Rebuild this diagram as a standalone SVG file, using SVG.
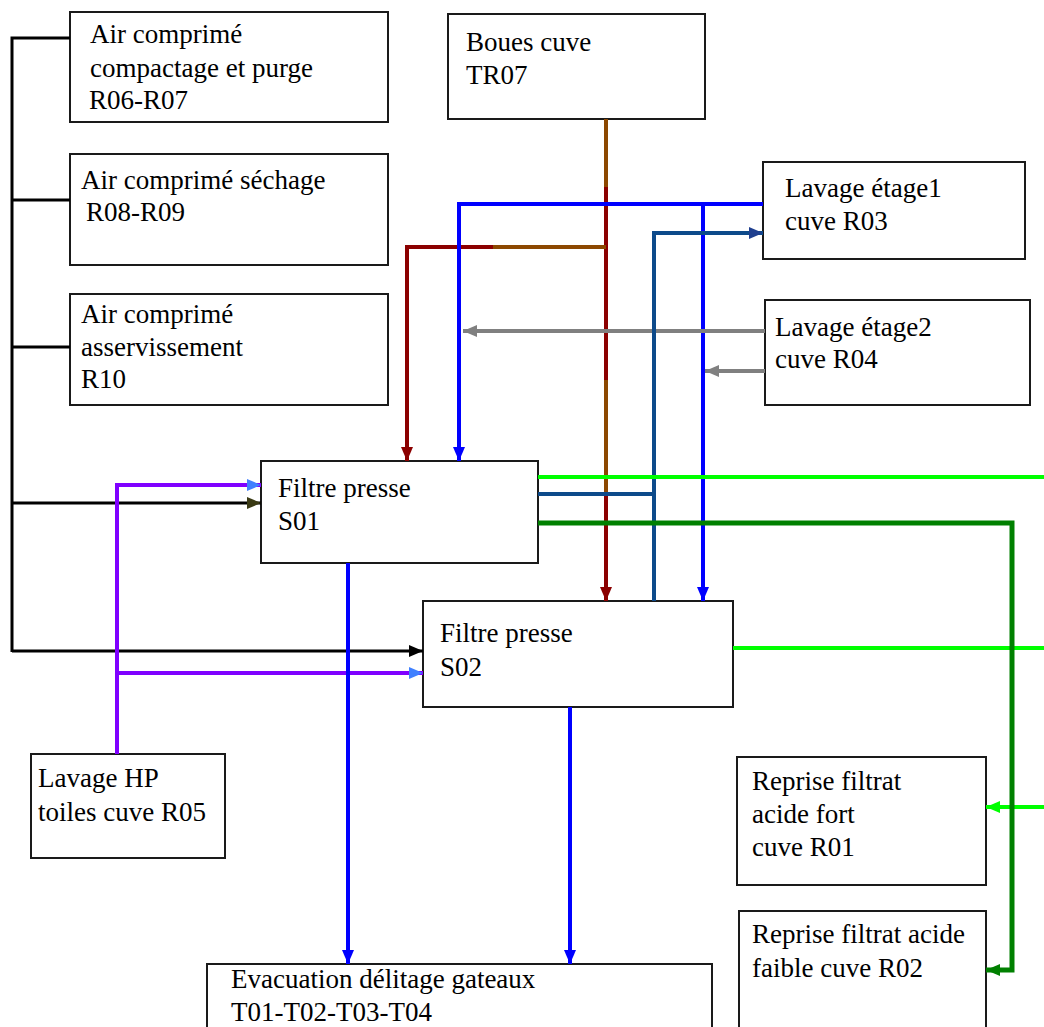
<svg xmlns="http://www.w3.org/2000/svg" width="1044" height="1027" viewBox="0 0 1044 1027">
<style>
.box{fill:#fff;stroke:#1a1a1a;stroke-width:2}
text{font-family:"Liberation Serif","Times New Roman",serif;font-size:27px;fill:#000}
.ln{fill:none;stroke-linecap:butt;stroke-linejoin:miter}
.blk{stroke:#000;stroke-width:3}
.blu{stroke:#0000ff;stroke-width:4}
.pur{stroke:#7f00ff;stroke-width:4}
.gry{stroke:#808080;stroke-width:4}
.dbl{stroke:#0d4a8a;stroke-width:4}
.brn{stroke:#8c4800;stroke-width:4}
.drd{stroke:#8b0000;stroke-width:4}
.lgr{stroke:#00ff00;stroke-width:4}
.dgr{stroke:#008000;stroke-width:5}
</style>
<defs>
<marker id="aBlk" markerUnits="userSpaceOnUse" markerWidth="14" markerHeight="12" refX="14" refY="6" orient="auto"><path d="M0,0 L14,6 L0,12 z" fill="#000"/></marker>
<marker id="aOlv" markerUnits="userSpaceOnUse" markerWidth="14" markerHeight="12" refX="14" refY="6" orient="auto"><path d="M0,0 L14,6 L0,12 z" fill="#3a3a14"/></marker>
<marker id="aLbl" markerUnits="userSpaceOnUse" markerWidth="14" markerHeight="12" refX="14" refY="6" orient="auto"><path d="M0,0 L14,6 L0,12 z" fill="#4080ff"/></marker>
<marker id="aBlu" markerUnits="userSpaceOnUse" markerWidth="14" markerHeight="12" refX="14" refY="6" orient="auto"><path d="M0,0 L14,6 L0,12 z" fill="#0000ff"/></marker>
<marker id="aGry" markerUnits="userSpaceOnUse" markerWidth="14" markerHeight="12" refX="14" refY="6" orient="auto"><path d="M0,0 L14,6 L0,12 z" fill="#808080"/></marker>
<marker id="aDbl" markerUnits="userSpaceOnUse" markerWidth="14" markerHeight="12" refX="14" refY="6" orient="auto"><path d="M0,0 L14,6 L0,12 z" fill="#1f3f8f"/></marker>
<marker id="aDrd" markerUnits="userSpaceOnUse" markerWidth="14" markerHeight="12" refX="14" refY="6" orient="auto"><path d="M0,0 L14,6 L0,12 z" fill="#8b0000"/></marker>
<marker id="aLgr" markerUnits="userSpaceOnUse" markerWidth="14" markerHeight="12" refX="14" refY="6" orient="auto"><path d="M0,0 L14,6 L0,12 z" fill="#00ff00"/></marker>
<marker id="aDgr" markerUnits="userSpaceOnUse" markerWidth="14" markerHeight="12" refX="14" refY="6" orient="auto"><path d="M0,0 L14,6 L0,12 z" fill="#008000"/></marker>
</defs>
<rect width="1044" height="1027" fill="#fff"/>

<g id="n-r06r07"><rect class="box" x="70" y="12" width="318" height="110"/>
<text x="90" y="43">Air comprimé</text><text x="90" y="77">compactage et purge</text><text x="89" y="109">R06-R07</text></g>
<g id="n-r08r09"><rect class="box" x="70" y="154" width="318" height="111"/>
<text x="81" y="189">Air comprimé séchage</text><text x="86" y="221">R08-R09</text></g>
<g id="n-r10"><rect class="box" x="70" y="294" width="318" height="111"/>
<text x="81" y="323">Air comprimé</text><text x="81" y="356">asservissement</text><text x="81" y="388">R10</text></g>
<g id="n-tr07"><rect class="box" x="448" y="14" width="257" height="105"/>
<text x="466" y="51">Boues cuve</text><text x="466" y="84">TR07</text></g>
<g id="n-r03"><rect class="box" x="763" y="162" width="262" height="97"/>
<text x="785" y="197">Lavage étage1</text><text x="785" y="230">cuve R03</text></g>
<g id="n-r04"><rect class="box" x="765" y="300" width="265" height="105"/>
<text x="775" y="336">Lavage étage2</text><text x="775" y="368">cuve R04</text></g>
<g id="n-s01"><rect class="box" x="261" y="461" width="277" height="102"/>
<text x="278" y="497">Filtre presse</text><text x="278" y="530">S01</text></g>
<g id="n-s02"><rect class="box" x="423" y="601" width="310" height="106"/>
<text x="440" y="642">Filtre presse</text><text x="440" y="676">S02</text></g>
<g id="n-r05"><rect class="box" x="31" y="754" width="194" height="104"/>
<text x="38" y="787">Lavage HP</text><text x="38" y="821">toiles cuve R05</text></g>
<g id="n-r01"><rect class="box" x="737" y="757" width="249" height="128"/>
<text x="752" y="790">Reprise filtrat</text><text x="752" y="823">acide fort</text><text x="752" y="856">cuve R01</text></g>
<g id="n-r02"><rect class="box" x="739" y="911" width="247" height="130"/>
<text x="752" y="943">Reprise filtrat acide</text><text x="752" y="977">faible cuve R02</text></g>
<g id="n-t01"><rect class="box" x="207" y="964" width="505" height="80"/>
<text x="231" y="988">Evacuation délitage gateaux</text><text x="231" y="1021">T01-T02-T03-T04</text></g>

<g id="connectors">
<!-- compressed air -->
<path class="ln blk" d="M70,38 H12 V652"/>
<path class="ln blk" d="M12,200 H70"/>
<path class="ln blk" d="M12,347 H70"/>
<path class="ln blk" d="M12,503 H261" marker-end="url(#aOlv)"/>
<path class="ln blk" d="M12,651 H423" marker-end="url(#aBlk)"/>
<!-- HP wash -->
<path class="ln pur" d="M117,754 V485 H261" marker-end="url(#aLbl)"/>
<path class="ln pur" d="M117,673 H423" marker-end="url(#aLbl)"/>
<!-- sludge TR07 -->
<path class="ln brn" d="M606,119 V187"/>
<path class="ln drd" d="M606,187 V380"/>
<path class="ln brn" d="M606,380 V494"/>
<path class="ln drd" d="M606,494 V601" marker-end="url(#aDrd)"/>
<path class="ln brn" d="M606,247 H493"/>
<path class="ln drd" d="M493,247 H407 V461" marker-end="url(#aDrd)"/>
<!-- R03 wash -->
<path class="ln blu" d="M763,204 H459 V461" marker-end="url(#aBlu)"/>
<path class="ln blu" d="M703,204 V601" marker-end="url(#aBlu)"/>
<!-- R04 wash -->
<path class="ln gry" d="M765,331 H463" marker-end="url(#aGry)"/>
<path class="ln gry" d="M765,371 H705" marker-end="url(#aGry)"/>
<!-- return to R03 -->
<path class="ln dbl" d="M538,494 H654"/>
<path class="ln dbl" d="M654,601 V233 H763" marker-end="url(#aDbl)"/>
<!-- filtrate -->
<path class="ln lgr" d="M538,477 H1044"/>
<path class="ln lgr" d="M733,648 H1044"/>
<path class="ln lgr" d="M1044,807 H986" marker-end="url(#aLgr)"/>
<path class="ln dgr" d="M538,523 H1012 V970 H986" marker-end="url(#aDgr)"/>
<!-- cake discharge -->
<path class="ln blu" d="M348,563 V964" marker-end="url(#aBlu)"/>
<path class="ln blu" d="M570,707 V964" marker-end="url(#aBlu)"/>
</g>
</svg>
